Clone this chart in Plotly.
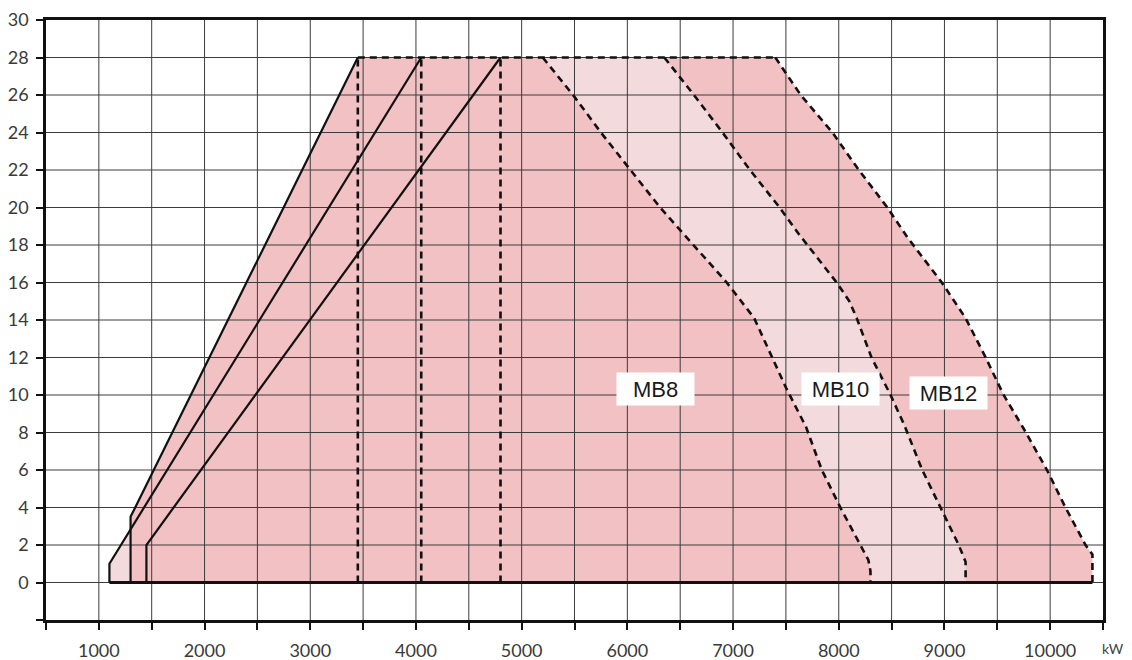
import plotly.graph_objects as go

# ---- data ----
x_ticks = list(range(500, 10501, 500))
x_labels = [str(v) if (v % 1000 == 0 and 1000 <= v <= 10000) else "" for v in x_ticks]
y_ticks = list(range(-2, 31, 2))
y_labels = ["" if v < 0 else str(v) for v in y_ticks]

# left (minimum output) lines
lineA_x = [1100, 1100, 4050]
lineA_y = [0, 1, 28]
lineB_x = [1300, 1300, 3450]
lineB_y = [0, 3.5, 28]
lineC_x = [1450, 1450, 4800]
lineC_y = [0, 2, 28]

# dashed verticals at top of left lines
vert_x = [3450, 4050, 4800]
top_y = 28

# right-side (maximum output) curves
mb8_x = [5200, 5500, 5750, 6030, 6310, 6720, 6940, 7200, 7370, 7500, 7690, 7840, 8015, 8205, 8280, 8300, 8300]
mb8_y = [28, 25.9, 24, 22, 20, 17.4, 16, 14.1, 12, 10.4, 8.3, 6, 4, 2, 1.2, 0.6, 0]
mb10_x = [6350, 6630, 6900, 7160, 7440, 7620, 7980, 8100, 8170, 8310, 8490, 8620, 8790, 8960, 9135, 9200, 9200]
mb10_y = [28, 26, 24, 22, 20, 18.6, 16, 15, 14.1, 12, 10, 8.4, 6, 4, 2, 1.1, 0]
mb12_x = [7400, 7640, 7940, 8190, 8460, 8650, 8975, 9200, 9390, 9560, 9750, 9970, 10145, 10335, 10400, 10400]
mb12_y = [28, 26, 24, 22, 20, 18.4, 16, 14.1, 12, 10, 8.2, 6, 4, 2, 1.5, 0]

labels = ["MB8", "MB10", "MB12"]
label_x = [6265, 8015, 9037]
label_y = [10.3, 10.3, 10.1]

DARK = "rgb(242,193,195)"
LIGHT = "rgb(243,218,220)"
GRID = "#3c3c3c"

fig = go.Figure()

# dark envelope (MB12 overall)
env_x = [lineB_x[0], lineB_x[1], lineB_x[2]] + mb12_x + [lineB_x[0]]
env_y = [lineB_y[0], lineB_y[1], lineB_y[2]] + mb12_y + [0]
fig.add_trace(go.Scatter(x=env_x, y=env_y, fill="toself", fillcolor=DARK,
                         line=dict(width=0), mode="lines", hoverinfo="skip", showlegend=False))

# light strip between MB8 and MB10
strip_x = mb10_x + mb8_x[::-1]
strip_y = mb10_y + mb8_y[::-1]
fig.add_trace(go.Scatter(x=strip_x, y=strip_y, fill="toself", fillcolor=LIGHT,
                         line=dict(width=0), mode="lines", hoverinfo="skip", showlegend=False))

# small light triangle at left bottom
cross_y = lineA_y[1] + (lineB_x[0] - lineA_x[1]) * (lineA_y[2] - lineA_y[1]) / (lineA_x[2] - lineA_x[1])
tri_x = [lineA_x[0], lineA_x[1], lineB_x[0], lineB_x[0]]
tri_y = [0, lineA_y[1], cross_y, 0]
fig.add_trace(go.Scatter(x=tri_x, y=tri_y, fill="toself", fillcolor=LIGHT,
                         line=dict(width=0), mode="lines", hoverinfo="skip", showlegend=False))

# grid drawn above fills
gx, gy = [], []
for v in x_ticks[1:-1]:
    gx += [v, v, None]
    gy += [y_ticks[0], y_ticks[-1], None]
for v in y_ticks[1:-1]:
    gx += [x_ticks[0], x_ticks[-1], None]
    gy += [v, v, None]
fig.add_trace(go.Scatter(x=gx, y=gy, mode="lines", line=dict(color=GRID, width=1),
                         hoverinfo="skip", showlegend=False))

DASH = "7px,5px"
solid = dict(color="#111", width=2.2)
dashed = dict(color="#111", width=2.6, dash=DASH)

for lx, ly in [(lineA_x, lineA_y), (lineB_x, lineB_y), (lineC_x, lineC_y)]:
    fig.add_trace(go.Scatter(x=lx, y=ly, mode="lines", line=solid, hoverinfo="skip", showlegend=False))

# bottom line
fig.add_trace(go.Scatter(x=[lineA_x[0], mb12_x[-1]], y=[0, 0], mode="lines",
                         line=dict(color="#111", width=2.8), hoverinfo="skip", showlegend=False))

for vx in vert_x:
    fig.add_trace(go.Scatter(x=[vx, vx], y=[0, top_y], mode="lines", line=dashed,
                             hoverinfo="skip", showlegend=False))
fig.add_trace(go.Scatter(x=[vert_x[0], mb12_x[0]], y=[top_y, top_y], mode="lines", line=dashed,
                         hoverinfo="skip", showlegend=False))
for cx, cy in [(mb8_x, mb8_y), (mb10_x, mb10_y), (mb12_x, mb12_y)]:
    fig.add_trace(go.Scatter(x=cx, y=cy, mode="lines", line=dashed, hoverinfo="skip", showlegend=False))

for t, ax_, ay_ in zip(labels, label_x, label_y):
    fig.add_annotation(x=ax_, y=ay_, text=t, showarrow=False, bgcolor="white",
                       width=75, height=30, align="center",
                       font=dict(family="Liberation Sans, Arial", size=22, color="#1a1a1a"))

fig.add_annotation(xref="paper", yref="paper", x=1.0095, y=-0.048, text="kW", showarrow=False,
                   xanchor="center", yanchor="middle",
                   font=dict(family="Lato", size=14, color="#444"))

tickfont = dict(family="Lato", size=18, color="#3a3a3a")
fig.update_xaxes(range=[x_ticks[0], x_ticks[-1]], tickmode="array", tickvals=x_ticks, ticktext=x_labels,
                 showgrid=False, zeroline=False, showline=True, linecolor="#111", linewidth=2.6,
                 mirror=True, ticks="outside", ticklen=7, tickwidth=2, tickcolor="#111",
                 tickfont=tickfont, ticklabelstandoff=6, automargin=False)
fig.update_yaxes(range=[y_ticks[0], y_ticks[-1]], tickmode="array", tickvals=y_ticks, ticktext=y_labels,
                 showgrid=False, zeroline=False, showline=True, linecolor="#111", linewidth=2.6,
                 mirror=True, ticks="outside", ticklen=7, tickwidth=2, tickcolor="#111",
                 tickfont=tickfont, ticklabelstandoff=4, automargin=False)

fig.update_layout(width=1124, height=652, margin=dict(l=38, r=29, t=12, b=40),
                  plot_bgcolor="white", paper_bgcolor="white", showlegend=False)

fig.write_html("out.html")
